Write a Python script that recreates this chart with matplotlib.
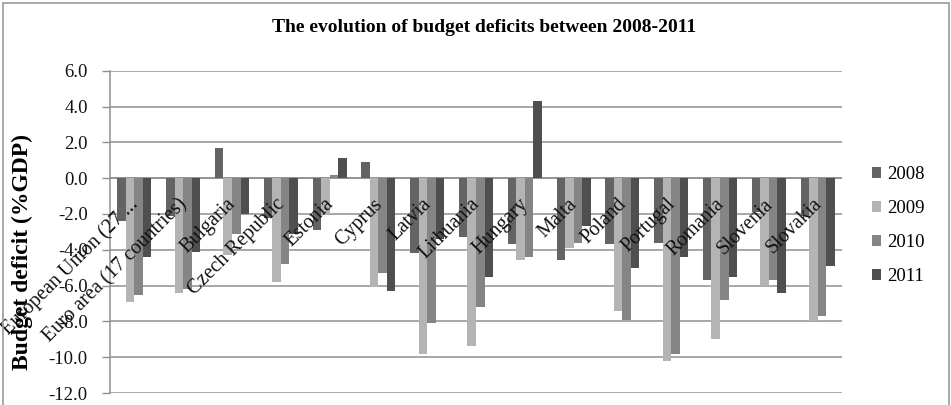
import matplotlib
matplotlib.use("Agg")
import matplotlib.pyplot as plt
from matplotlib.patches import Rectangle
import numpy as np

# Budget balance (% of GDP) by country and year
categories = ['European Union (27 ...', 'Euro area (17 countries)', 'Bulgaria',
              'Czech Republic', 'Estonia', 'Cyprus', 'Latvia', 'Lithuania',
              'Hungary', 'Malta', 'Poland', 'Portugal', 'Romania', 'Slovenia',
              'Slovakia']
years = ['2008', '2009', '2010', '2011']
d2008 = [-2.4, -2.1, 1.7, -2.2, -2.9, 0.9, -4.2, -3.3, -3.7, -4.6, -3.7, -3.6, -5.7, -1.9, -2.1]
d2009 = [-6.9, -6.4, -4.3, -5.8, -2.0, -6.1, -9.8, -9.4, -4.6, -3.9, -7.4, -10.2, -9.0, -6.0, -8.0]
d2010 = [-6.5, -6.2, -3.1, -4.8, 0.2, -5.3, -8.1, -7.2, -4.4, -3.6, -7.9, -9.8, -6.8, -5.7, -7.7]
d2011 = [-4.4, -4.1, -2.0, -3.1, 1.1, -6.3, -3.4, -5.5, 4.3, -2.7, -5.0, -4.4, -5.5, -6.4, -4.9]
y_ticks = [6, 4, 2, 0, -2, -4, -6, -8, -10, -12]
y_tick_labels = ['6.0', '4.0', '2.0', '0.0', '-2.0', '-4.0', '-6.0', '-8.0', '-10.0', '-12.0']

series = [d2008, d2009, d2010, d2011]
colors = ['#646464', '#b4b4b4', '#858585', '#4f4f4f']

SERIF = ['Liberation Serif', 'DejaVu Serif']
plt.rcParams['font.family'] = SERIF

W, H = 951, 405
fig = plt.figure(figsize=(W / 100, H / 100), dpi=100)
fig.patch.set_facecolor('white')

# outer chart border
fig.patches.append(Rectangle((3 / W, -0.05), (949 - 3) / W, 1.05 - 3 / H,
                             transform=fig.transFigure, fill=False,
                             edgecolor='#9a9a9a', linewidth=1.2, zorder=0))

ax = fig.add_axes([110 / W, 12 / H, 732 / W, 322.3 / H])
x = np.arange(len(categories))
bw = 0.175
for k, (vals, col, yr) in enumerate(zip(series, colors, years)):
    ax.bar(x + (k - 1.5) * bw, vals, width=bw, color=col, label=yr,
           linewidth=0, zorder=3)

ax.set_xlim(-0.5, len(categories) - 0.5)
ax.set_ylim(-12, 6)
ax.set_yticks(y_ticks)
ax.set_yticklabels(y_tick_labels, fontsize=13.5, color='#111111')
ax.tick_params(axis='y', direction='out', length=6, width=1.0,
               color='#8f8f8f', pad=10)
ax.set_xticks([])
ax.yaxis.grid(True, color='#8f8f8f', linewidth=1.1, zorder=0)
ax.set_axisbelow(True)
for s in ['top', 'right', 'bottom']:
    ax.spines[s].set_visible(False)
ax.spines['left'].set_color('#8f8f8f')
ax.spines['left'].set_linewidth(1.1)
ax.axhline(0, color='#8f8f8f', linewidth=1.1, zorder=2)

# category labels hang from the zero axis, rotated 45 degrees
for i, name in enumerate(categories):
    ax.annotate(name, xy=(i, 0), xytext=(-4, -12), textcoords='offset points',
                rotation=45, rotation_mode='anchor', ha='right', va='top',
                fontsize=14.5, color='#111111', zorder=5)

fig.text(484 / W, 1 - 28 / H, 'The evolution of budget deficits between 2008-2011',
         ha='center', va='center', fontsize=14, fontweight='bold')
fig.text(22 / W, 1 - 252 / H, 'Budget deficit (%GDP)', rotation=90,
         ha='center', va='center', fontsize=17, fontweight='bold')

leg = ax.legend(loc='center left', bbox_to_anchor=(872 / W, 1 - 225.5 / H),
                bbox_transform=fig.transFigure, frameon=False, fontsize=13.5,
                handlelength=0.5, handleheight=0.5, handletextpad=0.3,
                labelspacing=0.9, borderpad=0, borderaxespad=0)

fig.savefig('out.png', dpi=100, facecolor='white')
